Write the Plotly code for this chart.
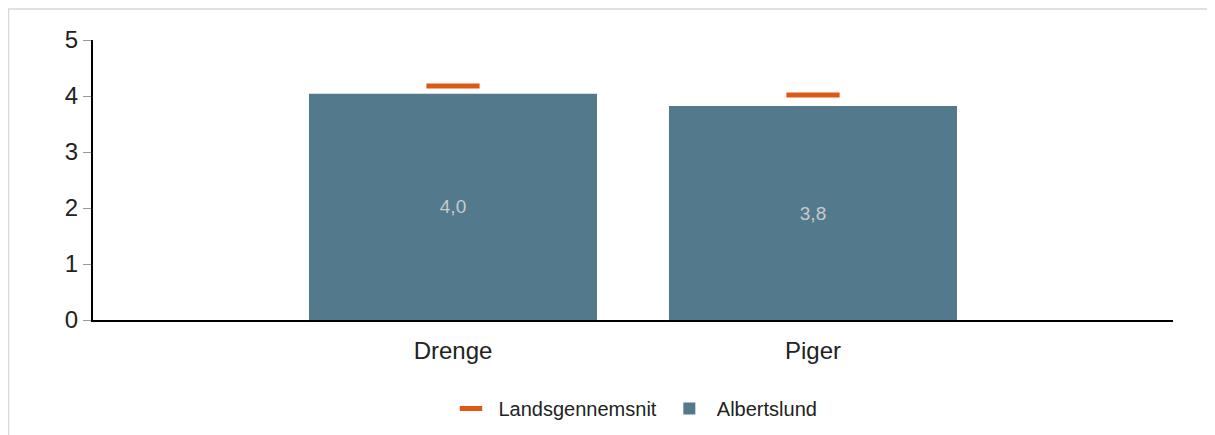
import plotly.graph_objects as go

categories = ["Drenge", "Piger"]
albertslund = [4.04, 3.82]
landsgennemsnit = [4.18, 4.02]

BAR_COLOR = "#537a8c"
AVG_COLOR = "#dd5a14"
FONT = "Liberation Sans, Arial, sans-serif"

fig = go.Figure()

fig.add_trace(go.Bar(
    x=categories,
    y=albertslund,
    name="Albertslund",
    marker=dict(color=BAR_COLOR, line=dict(width=0)),
    width=0.8,
    texttemplate="%{y:.1f}",
    textposition="inside",
    insidetextanchor="middle",
    textfont=dict(color="#c9c9c9", size=19, family=FONT),
    hoverinfo="skip",
))

# open symbols take their stroke colour from marker.color
fig.add_trace(go.Scatter(
    x=categories,
    y=landsgennemsnit,
    name="Landsgennemsnit",
    mode="markers",
    marker=dict(symbol="line-ew-open", size=38, color=AVG_COLOR,
                line=dict(color=AVG_COLOR, width=5)),
))

# the page body has an 8px margin, so the figure is sized/offset for it
fig.update_layout(
    width=1207,
    height=427,
    margin=dict(l=85, r=42, t=32, b=115),
    paper_bgcolor="white",
    plot_bgcolor="white",
    separators=", ",
    font=dict(family=FONT, color="#222222"),
    showlegend=True,
    legend=dict(
        orientation="h",
        x=0.5, xanchor="center",
        yref="container", y=0.062, yanchor="middle",
        traceorder="reversed",
        itemwidth=45,
        font=dict(size=20, color="#222222"),
    ),
    xaxis=dict(
        type="category",
        range=[-1, 2],
        showline=True, linecolor="black", linewidth=2,
        ticks="", tickfont=dict(size=24), ticklabelstandoff=8,
        showgrid=False, zeroline=False,
    ),
    yaxis=dict(
        range=[0, 5],
        dtick=1,
        showline=True, linecolor="black", linewidth=2,
        ticks="outside", ticklen=8, tickcolor="#999999", tickwidth=1,
        tickfont=dict(size=24),
        showgrid=False, zeroline=False,
    ),
    shapes=[dict(
        type="rect", xref="paper", yref="paper",
        x0=-0.0782, x1=1.037, y0=-0.6, y1=1.1107,
        line=dict(color="#d8d8d8", width=1.5),
        fillcolor="rgba(0,0,0,0)", layer="below",
    )],
)

fig.write_html("out.html")
